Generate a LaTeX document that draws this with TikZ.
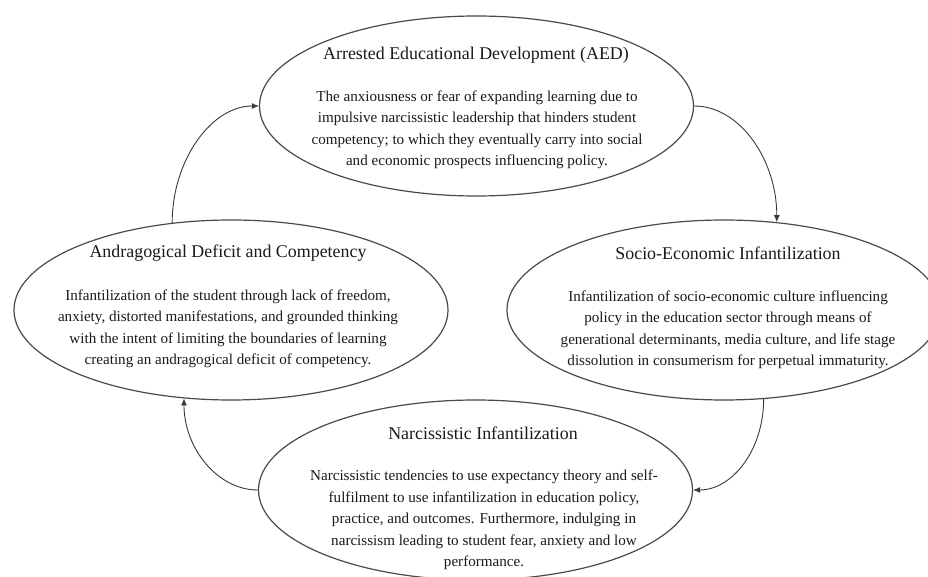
\documentclass[tikz,border=0pt]{standalone}
\usepackage{fontspec}
\setmainfont{Liberation Serif}
\usetikzlibrary{shapes.geometric,arrows.meta}
\definecolor{rim}{HTML}{4A4A4A}
\definecolor{link}{HTML}{3A3A3A}
\definecolor{ink}{HTML}{1A1A1A}
\begin{document}
\begin{tikzpicture}[x=1pt,y=1pt,
  oval/.style={ellipse,draw=rim,line width=1.2pt,minimum width=434pt,minimum height=180pt,inner sep=0pt},
  heading/.style={text=ink,font=\fontsize{17.9}{21}\selectfont,inner sep=0pt},
  body/.style={text=ink,align=center,font=\fontsize{15.1}{21.5}\selectfont,inner sep=0pt},
  flow/.style={draw=link,line width=0.9pt,-{Latex[length=7pt,width=6pt]}}]
\useasboundingbox (0,0) rectangle (928,576);
\fill[white] (0,0) rectangle (928,576);

% four stages of the cycle
\node[oval] (aed) at (476.5,470) {};
\node[oval] (adc) at (231,266) {};
\node[oval] (sei) at (724,266) {};
\node[oval] (ni)  at (475.5,86) {};

% stage titles and descriptions
\node[heading] (aedT) at (476,521) {Arrested Educational Development (AED)};
\node[body] (aedB) at (477,446) {The anxiousness or fear of expanding learning due to\\
impulsive narcissistic leadership that hinders student\\
competency; to which they eventually carry into social\\
and economic prospects influencing policy.};

\node[heading] (adcT) at (228,323) {Andragogical Deficit and Competency};
\node[body] (adcB) at (228,247) {Infantilization of the student through lack of freedom,\\
anxiety, distorted manifestations, and grounded thinking\\
with the intent of limiting the boundaries of learning\\
creating an andragogical deficit of competency.};

\node[heading] (seiT) at (728,323) {Socio-Economic Infantilization};
\node[body] (seiB) at (728,246) {Infantilization of socio-economic culture influencing\\
policy in the education sector through means of\\
generational determinants, media culture, and life stage\\
dissolution in consumerism for perpetual immaturity.};

\node[heading] (niT) at (483,143) {Narcissistic Infantilization};
\node[body] (niB) at (484,56) {Narcissistic tendencies to use expectancy theory and self-\\
fulfilment to use infantilization in education policy,\\
practice, and outcomes. Furthermore, indulging in\\
narcissism leading to student fear, anxiety and low\\
performance.};

% cycle connectors
\draw[flow] (adc.124) .. controls +(0,62) and +(-48,0) .. (aed.west);
\draw[flow] (aed.east) .. controls +(46,0) and +(0,62) .. (sei.59);
\draw[flow] (sei.-66) .. controls +(0,-51) and +(39,0) .. (ni.east);
\draw[flow] (ni.west) .. controls +(-41,0) and +(0,-49) .. (adc.242);
\end{tikzpicture}
\end{document}
